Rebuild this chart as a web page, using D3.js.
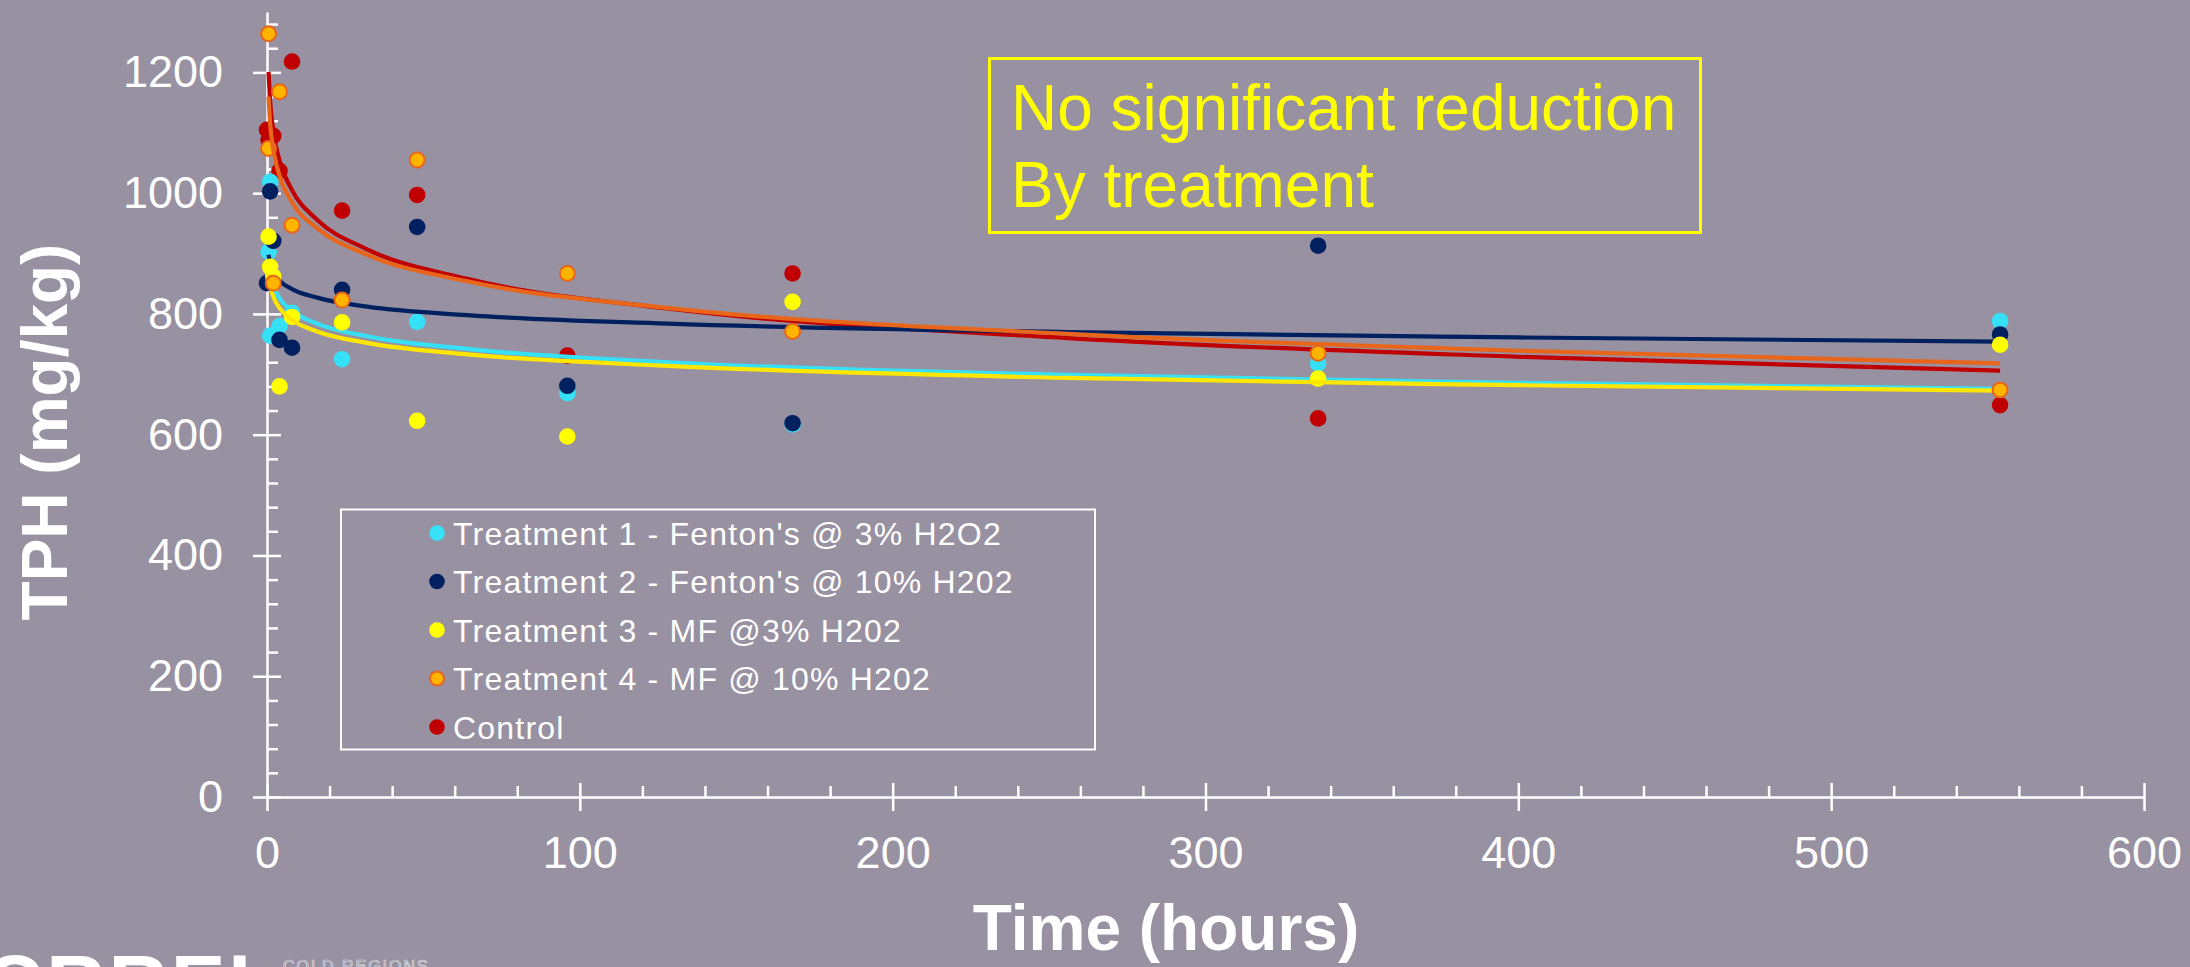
<!DOCTYPE html>
<html>
<head>
<meta charset="utf-8">
<script src="https://cdn.jsdelivr.net/npm/d3@7"></script>
<style>
	html, body { margin: 0; padding: 0; background: #9891a1; }
	svg { display: block; }
</style>
</head>
<body>
<svg id="chart" width="2190" height="967"></svg>
<script>
// ---- data ----
const legendLabels = [
	'Treatment 1 - Fenton\'s @ 3% H2O2',
	'Treatment 2 - Fenton\'s @ 10% H202',
	'Treatment 3 - MF @3% H202',
	'Treatment 4 - MF @ 10% H202',
	'Control'
];

const hoursT1 = [0.5, 1, 1, 4, 8, 24, 48, 96, 168, 336, 554];
const tphT1 = [903, 1019, 764, 780, 802, 725, 787, 669, 617, 718, 788];

const hoursT2 = [0, 1, 2, 4, 8, 24, 48, 96, 168, 336, 554];
const tphT2 = [851, 1003, 921, 757, 744, 840, 944, 681, 619, 913, 766];

const hoursT3 = [0.5, 1, 2, 4, 8, 24, 48, 96, 168, 336, 554];
const tphT3 = [928, 878, 862, 680, 795, 786, 623, 597, 820, 693, 749];

const hoursT4 = [0.5, 0.5, 2, 4, 8, 24, 48, 96, 168, 336, 554];
const tphT4 = [1264, 1074, 851, 1168, 947, 823, 1055, 867, 771, 735, 674];

const hoursControl = [0, 0.5, 2, 4, 8, 24, 48, 96, 168, 336, 554];
const tphControl = [1105, 1088, 1095, 1037, 1218, 971, 997, 731, 867, 627, 649];

// trend lines
const trendHours = [0.5, 1, 2, 4, 8, 16, 32, 64, 128, 256, 400, 554];
const trendT1 = [889, 868, 847, 826, 805, 784, 763, 742, 720, 699, 686, 676];
const trendT2 = [898, 884, 869, 855, 841, 827, 812, 798, 784, 770, 761, 754];
const trendT3 = [867, 848, 829, 810, 790, 771, 752, 733, 714, 694, 682, 673];
const trendT4 = [1160, 1116, 1073, 1029, 985, 942, 898, 854, 810, 767, 739, 718];
const trendControl = [1201, 1152, 1103, 1054, 1005, 956, 907, 858, 809, 760, 729, 706];

const xMajorTicks = [0, 100, 200, 300, 400, 500, 600];
const yMajorTicks = [0, 200, 400, 600, 800, 1000, 1200];

const noteLines = ['No significant reduction', 'By treatment'];

// ---- layout ----
const font = '\'Liberation Sans\', Arial, Helvetica, sans-serif';
const svg = d3.select('#chart');

const x = d3.scaleLinear().domain([0, 600]).range([267, 2144]);
const y = d3.scaleLinear().domain([0, 1300]).range([797, 12]);

const xMinorTicks = d3.range(0, 601, 20).filter(v => v % 100 !== 0);
const yMinorTicks = d3.range(0, 1300, 40).filter(v => v % 200 !== 0);

const series = [
	{ label: legendLabels[0], hours: hoursT1, tph: tphT1, trend: trendT1, fill: '#36e1f7', stroke: 'none', line: '#36e1f7' },
	{ label: legendLabels[1], hours: hoursT2, tph: tphT2, trend: trendT2, fill: '#002060', stroke: 'none', line: '#002060' },
	{ label: legendLabels[2], hours: hoursT3, tph: tphT3, trend: trendT3, fill: '#ffff00', stroke: 'none', line: '#ffe600' },
	{ label: legendLabels[3], hours: hoursT4, tph: tphT4, trend: trendT4, fill: '#ffb400', stroke: '#e8661c', line: '#e8661c' },
	{ label: legendLabels[4], hours: hoursControl, tph: tphControl, trend: trendControl, fill: '#c00000', stroke: 'none', line: '#c00000' }
];

// ---- axes ----
function styleAxis(g) {
	g.attr('font-family', font).attr('font-size', 45);
	g.selectAll('path, line').attr('stroke', '#ffffff').attr('stroke-width', 2.5);
	g.selectAll('text').attr('fill', '#ffffff');
}

const yMinor = svg.append('g')
	.attr('transform', `translate(${x(0)},0)`)
	.call(d3.axisLeft(y).tickValues(yMinorTicks).tickSize(-11).tickFormat(''));
yMinor.select('.domain').remove();
styleAxis(yMinor);

const yAxis = svg.append('g')
	.attr('transform', `translate(${x(0)},0)`)
	.call(d3.axisLeft(y).tickValues(yMajorTicks).tickFormat(d3.format('d'))
		.tickSizeInner(14).tickSizeOuter(0).tickPadding(30));
yAxis.selectAll('.tick line').attr('x1', 14);
styleAxis(yAxis);

const xMinor = svg.append('g')
	.attr('transform', `translate(0,${y(0)})`)
	.call(d3.axisBottom(x).tickValues(xMinorTicks).tickSize(-11).tickFormat(''));
xMinor.select('.domain').remove();
styleAxis(xMinor);

const xAxis = svg.append('g')
	.attr('transform', `translate(0,${y(0)})`)
	.call(d3.axisBottom(x).tickValues(xMajorTicks).tickFormat(d3.format('d'))
		.tickSizeInner(14).tickSizeOuter(0).tickPadding(25));
xAxis.selectAll('.tick line').attr('y1', -14);
styleAxis(xAxis);

// axis titles
svg.append('text')
	.attr('transform', 'translate(67,432) rotate(-90)')
	.attr('text-anchor', 'middle')
	.attr('font-family', font)
	.attr('font-weight', 'bold')
	.attr('font-size', 64)
	.attr('fill', '#ffffff')
	.text('TPH (mg/kg)');

svg.append('text')
	.attr('x', 1166)
	.attr('y', 950)
	.attr('text-anchor', 'middle')
	.attr('font-family', font)
	.attr('font-weight', 'bold')
	.attr('font-size', 64)
	.attr('fill', '#ffffff')
	.text('Time (hours)');

// ---- markers and trend lines ----
const trendLine = d3.line()
	.x(d => x(d[0]))
	.y(d => y(d[1]))
	.curve(d3.curveMonotoneX);

const plot = svg.append('g');
const drawOrder = [4, 0, 1, 2, 3];

drawOrder.forEach(i => {
	const s = series[i];
	const pts = s.hours.map((h, k) => [h, s.tph[k]]);

	plot.append('g')
		.selectAll('circle')
		.data(pts)
		.enter().append('circle')
		.attr('cx', d => x(d[0]))
		.attr('cy', d => y(d[1]))
		.attr('r', s.stroke === 'none' ? 8.3 : 7.5)
		.attr('fill', s.fill)
		.attr('stroke', s.stroke)
		.attr('stroke-width', 2);

	plot.append('path')
		.datum(trendHours.map((h, k) => [h, s.trend[k]]))
		.attr('d', trendLine)
		.attr('fill', 'none')
		.attr('stroke', s.line)
		.attr('stroke-width', 4.2);
});

// ---- legend ----
const legend = svg.append('g');
legend.append('rect')
	.attr('x', 341)
	.attr('y', 509.5)
	.attr('width', 754)
	.attr('height', 240)
	.attr('fill', 'none')
	.attr('stroke', '#ffffff')
	.attr('stroke-width', 2);

const rows = legend.selectAll('.row')
	.data(series)
	.enter().append('g')
	.attr('class', 'row')
	.attr('transform', (d, i) => `translate(437,${533 + i * 48.5})`);

rows.append('circle')
	.attr('r', d => d.stroke === 'none' ? 7.8 : 7)
	.attr('fill', d => d.fill)
	.attr('stroke', d => d.stroke)
	.attr('stroke-width', 2);

rows.append('text')
	.attr('x', 16)
	.attr('dy', '0.36em')
	.attr('font-family', font)
	.attr('font-size', 32)
	.attr('letter-spacing', 1.2)
	.attr('fill', '#ffffff')
	.text(d => d.label);

// ---- note box ----
svg.append('rect')
	.attr('x', 989.5)
	.attr('y', 58.5)
	.attr('width', 711)
	.attr('height', 174)
	.attr('fill', 'none')
	.attr('stroke', '#ffff00')
	.attr('stroke-width', 3);

svg.append('g')
	.selectAll('text')
	.data(noteLines)
	.enter().append('text')
	.attr('x', 1011)
	.attr('y', (d, i) => 130 + i * 76.7)
	.attr('font-family', font)
	.attr('font-size', 64)
	.attr('fill', '#ffff00')
	.text(d => d);

// ---- logo, cut off at the bottom edge as in the source slide ----
svg.append('text')
	.attr('x', -16)
	.attr('y', 1012)
	.attr('font-family', font)
	.attr('font-weight', 'bold')
	.attr('font-size', 82)
	.attr('letter-spacing', 3)
	.attr('fill', '#ffffff')
	.text('CRREL');

svg.append('text')
	.attr('x', 283)
	.attr('y', 972)
	.attr('font-family', font)
	.attr('font-size', 16)
	.attr('letter-spacing', 2)
	.attr('fill', 'none')
	.attr('stroke', '#dcdce0')
	.attr('stroke-width', 0.7)
	.text('COLD REGIONS');
</script>
</body>
</html>
